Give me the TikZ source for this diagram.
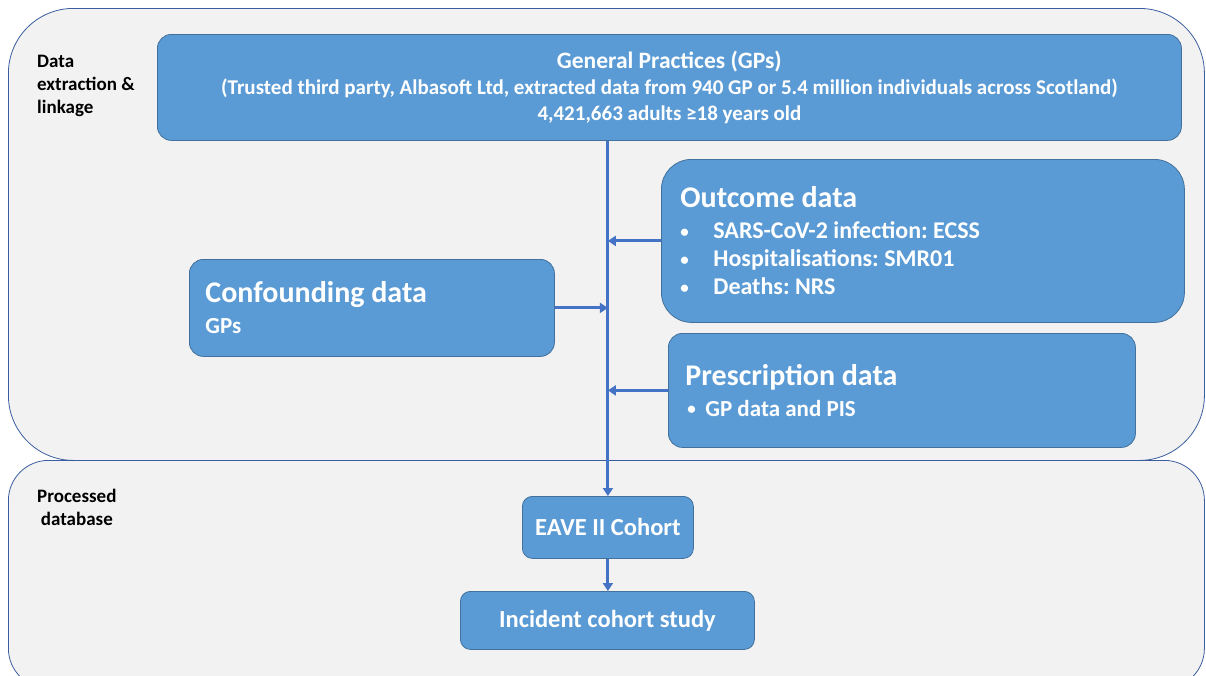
\documentclass[tikz,border=0pt]{standalone}
\usepackage{fontspec}
\setmainfont{Carlito}
\usetikzlibrary{arrows.meta}
\definecolor{boxblue}{HTML}{5B9BD5}
\definecolor{boxedge}{HTML}{41719C}
\definecolor{paneledge}{HTML}{3A5DA0}
\definecolor{panelfill}{HTML}{F2F2F2}
\definecolor{arrowblue}{HTML}{4472C4}
\frenchspacing
\newcommand{\itembul}[1]{\makebox[#1][l]{\raisebox{1.5pt}{\fontsize{17}{17}\selectfont\textbullet}}}
\tikzset{box/.style={draw=boxedge, fill=boxblue, rectangle, rounded corners=14, thick, text=white, anchor=north west, font=\bfseries}}
\tikzset{container/.style={draw=paneledge, fill=panelfill, rectangle, thick, anchor=north west, inner sep=0}}
\tikzset{caption/.style={anchor=north west, inner sep=0, font=\bfseries\fontsize{19}{23}\selectfont}}
\tikzset{line/.style={draw=arrowblue, line width=3pt, -{Triangle[length=8pt, width=10pt]}}}

\begin{document}
\begin{tikzpicture}[x=1pt, y=-1pt]
    \useasboundingbox (0,0) rectangle (1206,675);
    \clip (0,0) rectangle (1206,675);

    \node[container, rounded corners=65, minimum width=1196, minimum height=452] (extract) at (8,8) {};
    \node[container, rounded corners=40, minimum width=1196, minimum height=228] (processed) at (8,460) {};
    \node[caption, align=left] (extractlabel) at (37,55) {Data\\extraction \&\\linkage};
    \node[caption, align=center] (processedlabel) at (37,489) {Processed\\database};

    \node[box, minimum width=1024, minimum height=106, align=center, font=\bfseries\fontsize{21}{26}\selectfont] (gp) at (157,34)
        {{\fontsize{23.5}{26}\selectfont General Practices (GPs)}\\
         (Trusted third party, Albasoft Ltd, extracted data from 940 GP or 5.4 million individuals across Scotland)\\
         4,421,663 adults ≥18 years old};

    \node[box, rounded corners=30, minimum height=163, text width=485, inner xsep=19, align=flush left, font=\bfseries\fontsize{24}{28}\selectfont] (outcome) at (661,159)
        {{\fontsize{30}{31}\selectfont Outcome data}\\[3pt]
         \itembul{33pt}SARS-CoV-2 infection: ECSS\\
         \itembul{33pt}Hospitalisations: SMR01\\
         \itembul{33pt}Deaths: NRS};

    \node[box, minimum height=97, text width=333, inner xsep=16, align=flush left, font=\bfseries\fontsize{23}{31}\selectfont] (confounding) at (189,259)
        {{\fontsize{30}{31}\selectfont Confounding data}\\
         GPs};

    \node[box, minimum height=114, text width=433, inner xsep=17, align=flush left, font=\bfseries\fontsize{23}{31}\selectfont] (prescription) at (668,333)
        {{\fontsize{30}{31}\selectfont Prescription data}\\
         \hspace{2pt}\itembul{18pt}GP data and PIS};

    \node[box, rounded corners=10, minimum width=171, minimum height=62, font=\bfseries\fontsize{24.5}{28}\selectfont] (eave) at (522,496) {EAVE II Cohort};
    \node[box, rounded corners=10, minimum width=294, minimum height=58, font=\bfseries\fontsize{24.5}{28}\selectfont] (incident) at (460,591) {Incident cohort study};

    \path [line] (eave.north |- gp.south) -- (eave.north);
    \path [line] (outcome.west) -- (outcome.west -| eave.north);
    \path [line] (confounding.east) -- (confounding.east -| eave.north);
    \path [line] (prescription.west) -- (prescription.west -| eave.north);
    \path [line] (eave.south) -- (eave.south |- incident.north);
\end{tikzpicture}
\end{document}
